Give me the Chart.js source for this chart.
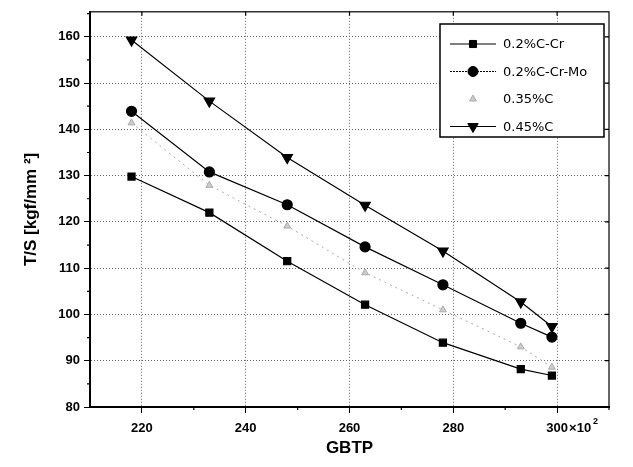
<!DOCTYPE html>
<html>
<head>
<meta charset="utf-8">
<script src="https://cdn.jsdelivr.net/npm/chart.js@4.4.0/dist/chart.umd.min.js"></script>
<style>
  html, body { margin: 0; padding: 0; background: #fff; }
  #wrap { width: 633px; height: 467px; }
</style>
</head>
<body>
<div id="wrap"><canvas id="tsChart"></canvas></div>
<script>
// valeurs (GBTP en x10^2)
const gbtp = [218, 233, 248, 263, 278, 293, 299];
const crSteel = [129.8, 122.0, 111.5, 102.1, 93.9, 88.2, 86.8];
const crMoSteel = [143.9, 130.8, 123.7, 114.6, 106.4, 98.1, 95.1];
const carbon035 = [141.4, 127.9, 119.1, 109.0, 101.0, 93.0, 88.6];
const carbon045 = [159.3, 146.1, 133.9, 123.6, 113.7, 102.7, 97.4];
const seriesNames = ['0.2%C-Cr', '0.2%C-Cr-Mo', '0.35%C', '0.45%C'];
const xTicks = [220, 240, 260, 280, 300];
const yTicks = [80, 90, 100, 110, 120, 130, 140, 150, 160];

const pts = (ys) => gbtp.map((x, i) => ({ x: x, y: ys[i] }));
const tickFont = { family: 'Liberation Sans, Arial', size: 13, weight: 'bold' };
const titleFont = { family: 'Liberation Sans, Arial', size: 17, weight: 'bold' };

// petites graduations, cadre et légende
const extras = {
  id: 'extras',
  afterDraw(chart) {
    const c = chart.ctx, a = chart.chartArea;
    const xs = chart.scales.x, ys = chart.scales.y;
    c.save();
    c.strokeStyle = '#000';
    c.lineWidth = 1.2;
    c.strokeRect(a.left, a.top, a.right - a.left, a.bottom - a.top);
    c.beginPath();
    for (let v = 230; v <= 310; v += 20) {
      const px = xs.getPixelForValue(v);
      c.moveTo(px, a.bottom); c.lineTo(px, a.bottom + 3);
    }
    for (let v = 85; v <= 165; v += 10) {
      const py = ys.getPixelForValue(v);
      c.moveTo(a.left, py); c.lineTo(a.left - 3, py);
    }
    xTicks.forEach(v => {
      const px = xs.getPixelForValue(v);
      c.moveTo(px, a.top); c.lineTo(px, a.top + 4);
    });
    yTicks.forEach(v => {
      const py = ys.getPixelForValue(v);
      c.moveTo(a.right, py); c.lineTo(a.right - 4, py);
    });
    c.stroke();

    // ×10² après 300
    const p300 = xs.getPixelForValue(300);
    c.fillStyle = '#000';
    c.font = 'bold 13px Liberation Sans, Arial';
    c.textBaseline = 'middle';
    c.fillText('\u00d710', p300 + 12, 428);
    c.font = 'bold 9px Liberation Sans, Arial';
    c.fillText('2', p300 + 36, 422);

    // légende
    const bx = 440, by = 24, bw = 164, bh = 113;
    c.fillStyle = '#fff';
    c.fillRect(bx, by, bw, bh);
    c.lineWidth = 1.5;
    c.strokeStyle = '#000';
    c.strokeRect(bx, by, bw, bh);
    chart.data.datasets.forEach((ds, i) => {
      const yy = 44 + i * 27.5;
      if (i !== 2) {
        c.save();
        c.strokeStyle = ds.borderColor;
        c.lineWidth = ds.borderWidth;
        c.setLineDash(i === 1 ? [2, 1] : []);
        c.beginPath();
        c.moveTo(450, yy); c.lineTo(496, yy);
        c.stroke();
        c.restore();
      }
      c.save();
      c.fillStyle = ds.pointBackgroundColor;
      c.strokeStyle = ds.pointBorderColor;
      c.lineWidth = 1;
      c.setLineDash([]);
      Chart.helpers.drawPoint(c, {
        pointStyle: ds.pointStyle,
        radius: ds.pointRadius,
        rotation: ds.pointRotation || 0,
        borderWidth: 1
      }, 473, yy);
      c.restore();
      c.fillStyle = '#000';
      c.font = '13px DejaVu Sans, Arial';
      c.textBaseline = 'middle';
      c.fillText(ds.label, 503, yy + 1);
    });
    c.restore();
  }
};

new Chart(document.getElementById('tsChart'), {
  type: 'line',
  data: {
    datasets: [
      {
        label: seriesNames[0], data: pts(crSteel),
        borderColor: '#000', backgroundColor: '#000', borderWidth: 1.2,
        pointStyle: 'rect', pointRadius: 5, pointBackgroundColor: '#000', pointBorderColor: '#000'
      },
      {
        label: seriesNames[1], data: pts(crMoSteel),
        borderColor: '#000', backgroundColor: '#000', borderWidth: 1.2,
        pointStyle: 'circle', pointRadius: 5, pointBackgroundColor: '#000', pointBorderColor: '#000'
      },
      {
        label: seriesNames[2], data: pts(carbon035),
        borderColor: '#aaa', backgroundColor: '#bbb', borderWidth: 1, borderDash: [2, 4],
        pointStyle: 'triangle', pointRadius: 4, pointBackgroundColor: '#ccc', pointBorderColor: '#aaa'
      },
      {
        label: seriesNames[3], data: pts(carbon045),
        borderColor: '#000', backgroundColor: '#000', borderWidth: 1.2,
        pointStyle: 'triangle', pointRotation: 180, pointRadius: 6, pointBackgroundColor: '#000', pointBorderColor: '#000'
      }
    ]
  },
  options: {
    responsive: true,
    maintainAspectRatio: false,
    animation: false,
    layout: { padding: { top: 10, right: 24, left: 0, bottom: 0 } },
    plugins: { legend: { display: false }, tooltip: { enabled: false } },
    scales: {
      x: {
        type: 'linear', min: 210, max: 310,
        afterBuildTicks: (s) => { s.ticks = xTicks.map(v => ({ value: v })); },
        afterFit: (s) => { s.height = 60; },
        grid: { color: '#666', lineWidth: 1, tickLength: 6, tickColor: '#000', tickBorderDash: [] },
        border: { display: true, color: '#000', width: 2, dash: [1, 2] },
        ticks: { color: '#000', font: tickFont, padding: 8, maxRotation: 0 },
        title: { display: true, text: 'GBTP', color: '#000', font: titleFont, padding: { top: 0, bottom: 8 } }
      },
      y: {
        type: 'linear', min: 80, max: 165.4,
        afterBuildTicks: (s) => { s.ticks = yTicks.map(v => ({ value: v })); },
        afterFit: (s) => { s.width = 90; },
        grid: { color: '#666', lineWidth: 1, tickLength: 6, tickColor: '#000', tickBorderDash: [] },
        border: { display: true, color: '#000', width: 2, dash: [1, 2] },
        ticks: { color: '#000', font: tickFont, padding: 4 },
        title: { display: true, text: 'T/S [kgf/mm \u00b2]', color: '#000', font: titleFont, padding: { top: 21, bottom: 0 } }
      }
    }
  },
  plugins: [extras]
});
</script>
</body>
</html>
